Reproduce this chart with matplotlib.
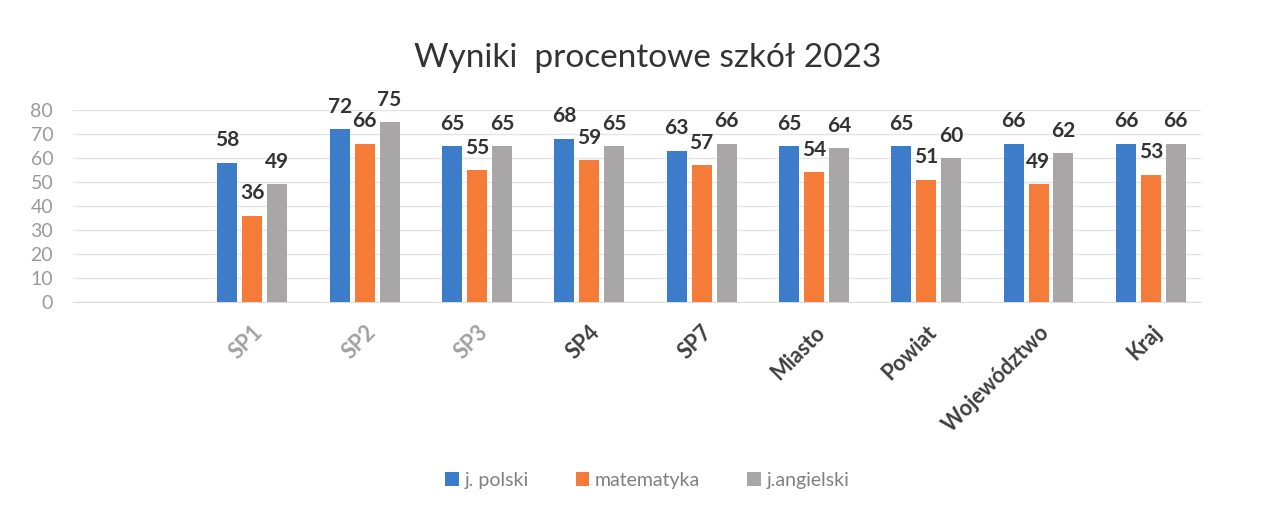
import numpy as np
import matplotlib

matplotlib.use("Agg")
import matplotlib.pyplot as plt
import matplotlib.transforms as mtransforms

categories = ["SP1", "SP2", "SP3", "SP4", "SP7", "Miasto", "Powiat", "Województwo", "Kraj"]
polski = [58, 72, 65, 68, 63, 65, 65, 66, 66]
matematyka = [36, 66, 55, 59, 57, 54, 51, 49, 53]
angielski = [49, 75, 65, 65, 66, 64, 60, 62, 66]
series_names = ["j. polski", "matematyka", "j.angielski"]
yticks = [0, 10, 20, 30, 40, 50, 60, 70, 80]

colors = ["#3d7cc9", "#f47b38", "#a9a6a8"]
label_colors = ["#a0a0a0"] * 3 + ["#3f3f3f"] * 6

plt.rcParams["font.family"] = ["Lato", "DejaVu Sans"]

fig = plt.figure(figsize=(12.74, 5.07), dpi=100)
ax = fig.add_axes([0.057, 0.404, 0.886, 0.379])

x = np.arange(len(categories))
step = 0.222
width = 0.178
for i, (vals, name) in enumerate(zip([polski, matematyka, angielski], series_names)):
    pos = x + (i - 1) * step
    bars = ax.bar(pos, vals, width=width, color=colors[i], label=name, zorder=3)
    for b, v in zip(bars, vals):
        ax.annotate(str(v), (b.get_x() + b.get_width() / 2, v), xytext=(0, 9),
                    textcoords="offset points", ha="center", va="bottom",
                    fontsize=15, fontweight="bold", color="#333333", clip_on=False)

ax.set_xlim(-1.6, 8.45)
ax.set_ylim(0, 80)
ax.set_yticks(yticks)
ax.tick_params(axis="y", length=0, labelsize=14, labelcolor="#9a9a9a", pad=14)
ax.set_xticks(x)
ax.set_xticklabels(categories, rotation=45, ha="right", rotation_mode="anchor",
                   fontsize=15.5, fontweight="bold")
shift = mtransforms.ScaledTranslation(8 / 100, 0, fig.dpi_scale_trans)
for lbl, c in zip(ax.get_xticklabels(), label_colors):
    lbl.set_color(c)
    lbl.set_transform(lbl.get_transform() + shift)
ax.tick_params(axis="x", length=0, pad=14)

ax.grid(axis="y", color="#e4e4e4", linewidth=1.0, zorder=0)
for s in ["top", "right", "left"]:
    ax.spines[s].set_visible(False)
ax.spines["bottom"].set_color("#dcdcdc")

fig.text(0.508, 0.885, "Wyniki  procentowe szkół 2023", ha="center", va="center",
         fontsize=24, color="#333333")

handles, labels = ax.get_legend_handles_labels()
fig.legend(handles, labels, loc="center", bbox_to_anchor=(0.508, 0.053), ncol=3,
           frameon=False, fontsize=14, labelcolor="#808080", handlelength=0.7,
           handleheight=0.7, handletextpad=0.3, columnspacing=2.4)

fig.savefig("out.png", dpi=100)
